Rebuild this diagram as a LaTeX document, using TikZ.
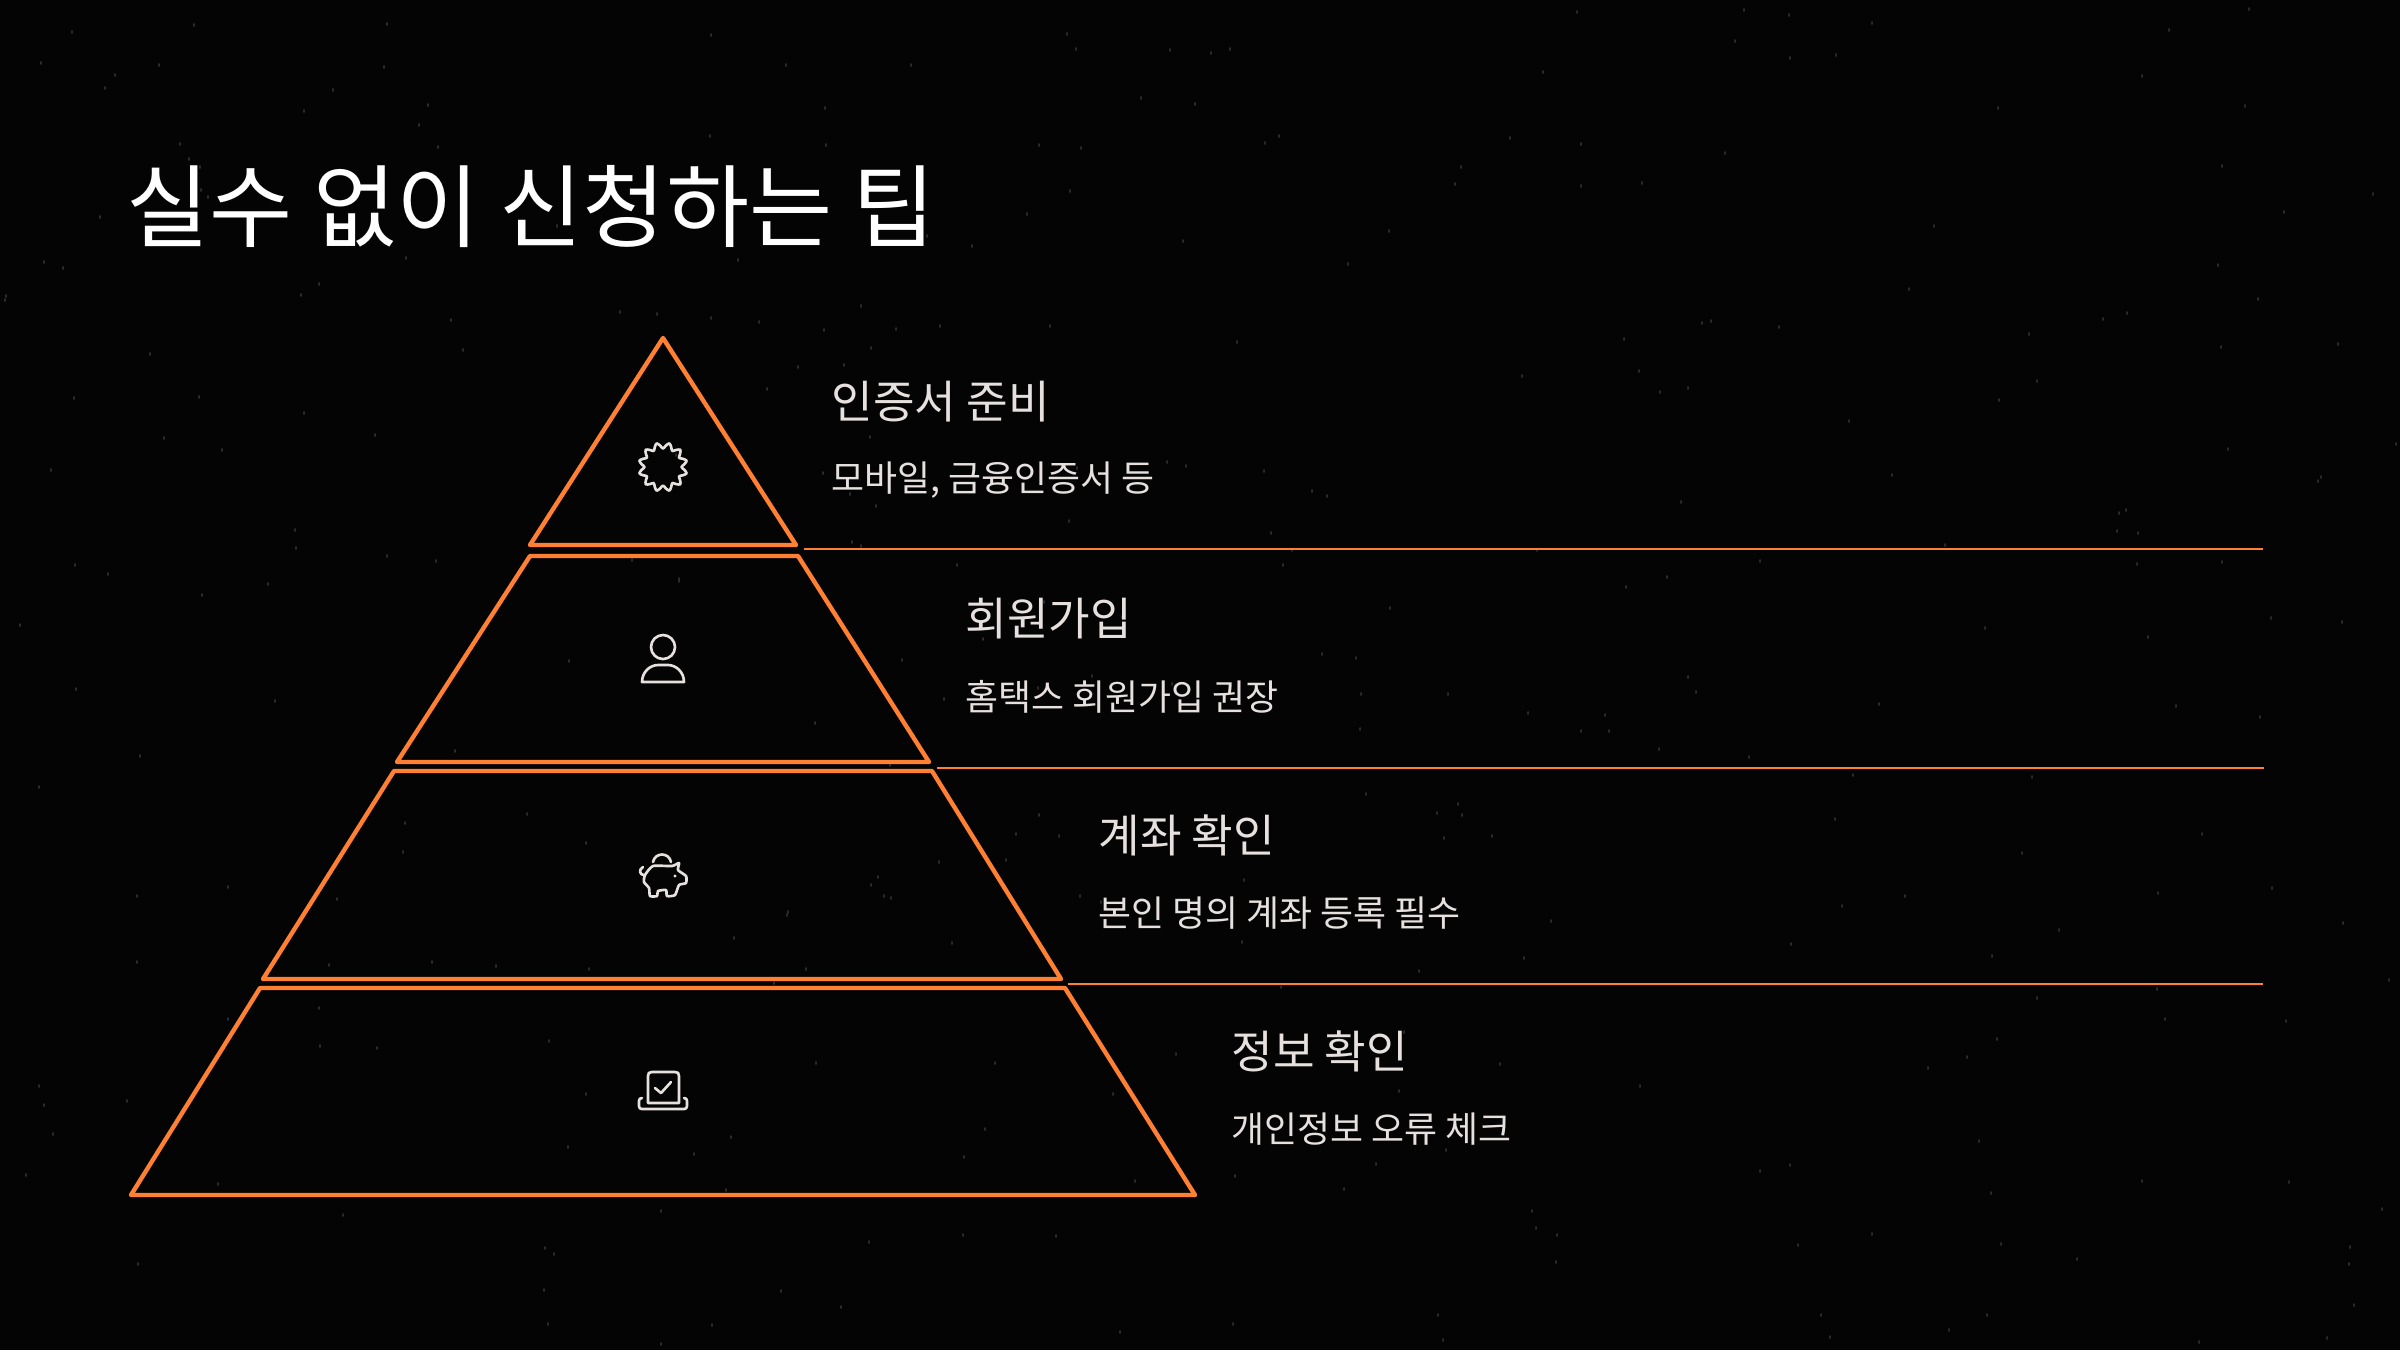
\documentclass[tikz,border=0pt]{standalone}
\usepackage{fontspec}
\setmainfont{Noto Sans CJK KR}
\definecolor{spaceblack}{HTML}{040404}
\definecolor{layerorange}{HTML}{FF8033}
\definecolor{softwhite}{HTML}{E6E1DF}
\definecolor{speckgrey}{HTML}{2E2C2A}
\tikzset{
  layer/.style={draw=layerorange,line width=1.25pt,line join=round},
  sepline/.style={draw=layerorange,line width=0.45pt},
  icon/.style={draw=softwhite,line width=0.75pt,line join=round,line cap=round},
  titletext/.style={text=white,font=\fontsize{25.7pt}{30pt}\selectfont,anchor=west,inner sep=0pt},
  headtext/.style={text=softwhite,font=\fontsize{12.85pt}{15pt}\selectfont,anchor=west,inner sep=0pt},
  subtext/.style={text=softwhite,font=\fontsize{10.2pt}{12pt}\selectfont,anchor=west,inner sep=0pt}
}
\begin{document}
\begin{tikzpicture}[x=0.01cm,y=-0.01cm]
  \useasboundingbox (0,0) rectangle (2400,1350);
  \fill[spaceblack] (0,0) rectangle (2400,1350);

  % faint specks
  \pgfmathsetseed{11}
  \foreach \i in {1,...,340} {
    \pgfmathsetmacro{\sx}{random(4,2396)}
    \pgfmathsetmacro{\sy}{random(4,1346)}
    \fill[speckgrey] (\sx,\sy) ellipse (0.9 and 2);
  }

  \node[titletext] (title) at (126,207) {실수 없이 신청하는 팁};

  % pyramid, top to bottom
  \draw[layer] (663,338) -- (796,545) -- (530,545) -- cycle;
  \draw[layer] (530,556) -- (798,556) -- (929,762) -- (397,762) -- cycle;
  \draw[layer] (394,771) -- (932,771) -- (1061,979) -- (263,979) -- cycle;
  \draw[layer] (260,988) -- (1065,988) -- (1195,1195) -- (131,1195) -- cycle;

  \coordinate (sep1a) at (804,549);
  \coordinate (sep1b) at (2263,549);
  \coordinate (sep2a) at (937,768);
  \coordinate (sep2b) at (2264,768);
  \coordinate (sep3a) at (1068,984);
  \coordinate (sep3b) at (2263,984);
  \draw[sepline] (sep1a) -- (sep1b);
  \draw[sepline] (sep2a) -- (sep2b);
  \draw[sepline] (sep3a) -- (sep3b);

  \node[headtext] (head1) at (831,402) {인증서 준비};
  \node[subtext] (sub1) at (831,480) {모바일, 금융인증서 등};
  \node[headtext] (head2) at (965,619) {회원가입};
  \node[subtext] (sub2) at (965,697) {홈택스 회원가입 권장};
  \node[headtext] (head3) at (1098,835) {계좌 확인};
  \node[subtext] (sub3) at (1098,913) {본인 명의 계좌 등록 필수};
  \node[headtext] (head4) at (1231,1051) {정보 확인};
  \node[subtext] (sub4) at (1231,1129) {개인정보 오류 체크};

  % badge
  \draw[icon] plot[smooth cycle,samples=48,domain=0:352.5,variable=\t]
    ({663+(21.5-3*cos(12*\t))*cos(\t)},{467+(21.5-3*cos(12*\t))*sin(\t)});

  % person
  \draw[icon] (663,647) circle (12);
  \draw[icon] (642,682) .. controls (642,672) and (650,665) .. (658,665) -- (668,665)
    .. controls (676,665) and (684,672) .. (684,682) -- cycle;

  % piggy bank
  \draw[icon] (653,862) .. controls (655,852) and (669,852) .. (671,862);
  \draw[icon] plot[smooth cycle,tension=0.35] coordinates {
    (645,875) (653,866) (672,866) (679,863) (678,870) (686,876) (686,883) (679,885)
    (675,895) (667,896) (666,890) (658,891) (657,896) (650,896) (649,888) (644,882)};
  \draw[icon] (644,875) .. controls (640,875) and (638,870) .. (643,867);
  \fill[softwhite] (675,876) circle (1.6);

  % laptop with check
  \draw[icon] (648,1103) -- (648,1076) .. controls (648,1073) and (649,1072) .. (652,1072)
    -- (675,1072) .. controls (678,1072) and (679,1073) .. (679,1076) -- (679,1103) -- cycle;
  \draw[icon] (642,1098) .. controls (640,1098) and (639,1099) .. (639,1101) -- (639,1106)
    .. controls (639,1108) and (640,1109) .. (642,1109) -- (684,1109)
    .. controls (686,1109) and (687,1108) .. (687,1106) -- (687,1101)
    .. controls (687,1099) and (686,1098) .. (684,1098);
  \draw[icon] (655,1088) -- (661,1093) -- (671,1082);
\end{tikzpicture}
\end{document}
